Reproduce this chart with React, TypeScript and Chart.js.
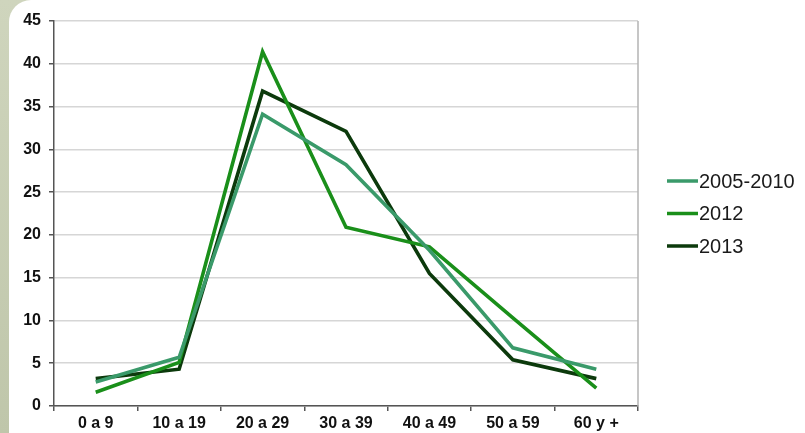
import React, { useEffect, useRef } from "react";
import { Chart, registerables } from "chart.js";

Chart.register(...registerables);

const categories = ["0 a 9", "10 a 19", "20 a 29", "30 a 39", "40 a 49", "50 a 59", "60 y +"];
const seriesNames = ["2005-2010", "2012", "2013"];
const values2005_2010 = [2.8, 5.7, 34.1, 28.2, 18.2, 6.8, 4.3];
const values2012 = [1.6, 5.1, 41.4, 20.9, 18.6, 10.3, 2.1];
const values2013 = [3.2, 4.3, 36.8, 32.1, 15.5, 5.4, 3.2];
const yTicks = [0, 5, 10, 15, 20, 25, 30, 35, 40, 45];
const colors = ["#3a9a6a", "#1a8f1a", "#0c3a0c"];

const legendAndBorder = {
  id: "legendAndBorder",
  afterDraw(chart: any) {
    const { ctx, chartArea } = chart;
    ctx.save();
    ctx.strokeStyle = "#b3b3b3";
    ctx.lineWidth = 1.5;
    ctx.beginPath();
    ctx.moveTo(chartArea.right, chartArea.top);
    ctx.lineTo(chartArea.right, chartArea.bottom);
    ctx.stroke();
    const cy = (chartArea.top + chartArea.bottom) / 2;
    const step = 32.5;
    const n = chart.data.datasets.length;
    chart.data.datasets.forEach((ds: any, i: number) => {
      const y = cy + (i - (n - 1) / 2) * step;
      ctx.strokeStyle = ds.borderColor;
      ctx.lineWidth = 3.5;
      ctx.beginPath();
      ctx.moveTo(chartArea.right + 29, y);
      ctx.lineTo(chartArea.right + 60, y);
      ctx.stroke();
      ctx.fillStyle = "#1a1a1a";
      ctx.font = "20px 'Liberation Sans', Arial, sans-serif";
      ctx.textBaseline = "middle";
      ctx.textAlign = "left";
      ctx.fillText(ds.label, chartArea.right + 61, y + 1);
    });
    ctx.restore();
  },
};

export default function App() {
  const ref = useRef<HTMLCanvasElement | null>(null);
  useEffect(() => {
    document.body.style.margin = "0";
    const tickFont = { family: "'Liberation Sans', Arial, sans-serif", size: 16, weight: "bold" as const };
    const chart = new Chart(ref.current!, {
      type: "line",
      data: {
        labels: categories,
        datasets: [values2005_2010, values2012, values2013].map((d, i) => ({
          label: seriesNames[i],
          data: d,
          borderColor: colors[i],
          backgroundColor: colors[i],
          borderWidth: 3.6,
          pointRadius: 0,
          tension: 0,
          fill: false,
        })),
      },
      options: {
        animation: false,
        responsive: false,
        maintainAspectRatio: false,
        layout: { padding: { left: 7, top: 21, right: 167, bottom: 0 } },
        plugins: { legend: { display: false }, tooltip: { enabled: false } },
        scales: {
          x: {
            offset: true,
            grid: {
              offset: true,
              drawOnChartArea: false,
              drawTicks: true,
              tickLength: 5,
              tickColor: "#555",
              lineWidth: 1.5,
            },
            border: { color: "#555", width: 1.5 },
            ticks: { font: tickFont, color: "#111", padding: 3, maxRotation: 0 },
            afterFit(scale: any) {
              scale.height = 27;
            },
          },
          y: {
            min: 0,
            max: 45,
            afterBuildTicks(scale: any) {
              scale.ticks = yTicks.map((v) => ({ value: v }));
            },
            grid: {
              color: "#d6d6d6",
              lineWidth: 1.5,
              tickLength: 5,
              tickColor: "#555",
            },
            border: { color: "#555", width: 1.5 },
            ticks: { font: tickFont, color: "#111", padding: 8 },
            afterFit(scale: any) {
              scale.width = 47;
            },
          },
        },
      },
      plugins: [legendAndBorder],
    });
    return () => chart.destroy();
  }, []);
  return (
    <div style={{ position: "fixed", left: 0, top: 0, width: 805, height: 433, background: "linear-gradient(#cfd5bd, #bfc6aa)" }}>
      <div style={{ position: "absolute", left: 9, top: 0, right: 0, bottom: 0, background: "#fff", borderTopLeftRadius: 22 }} />
      <canvas ref={ref} width={805} height={433} style={{ position: "absolute", left: 0, top: 0, width: 805, height: 433 }} />
    </div>
  );
}
